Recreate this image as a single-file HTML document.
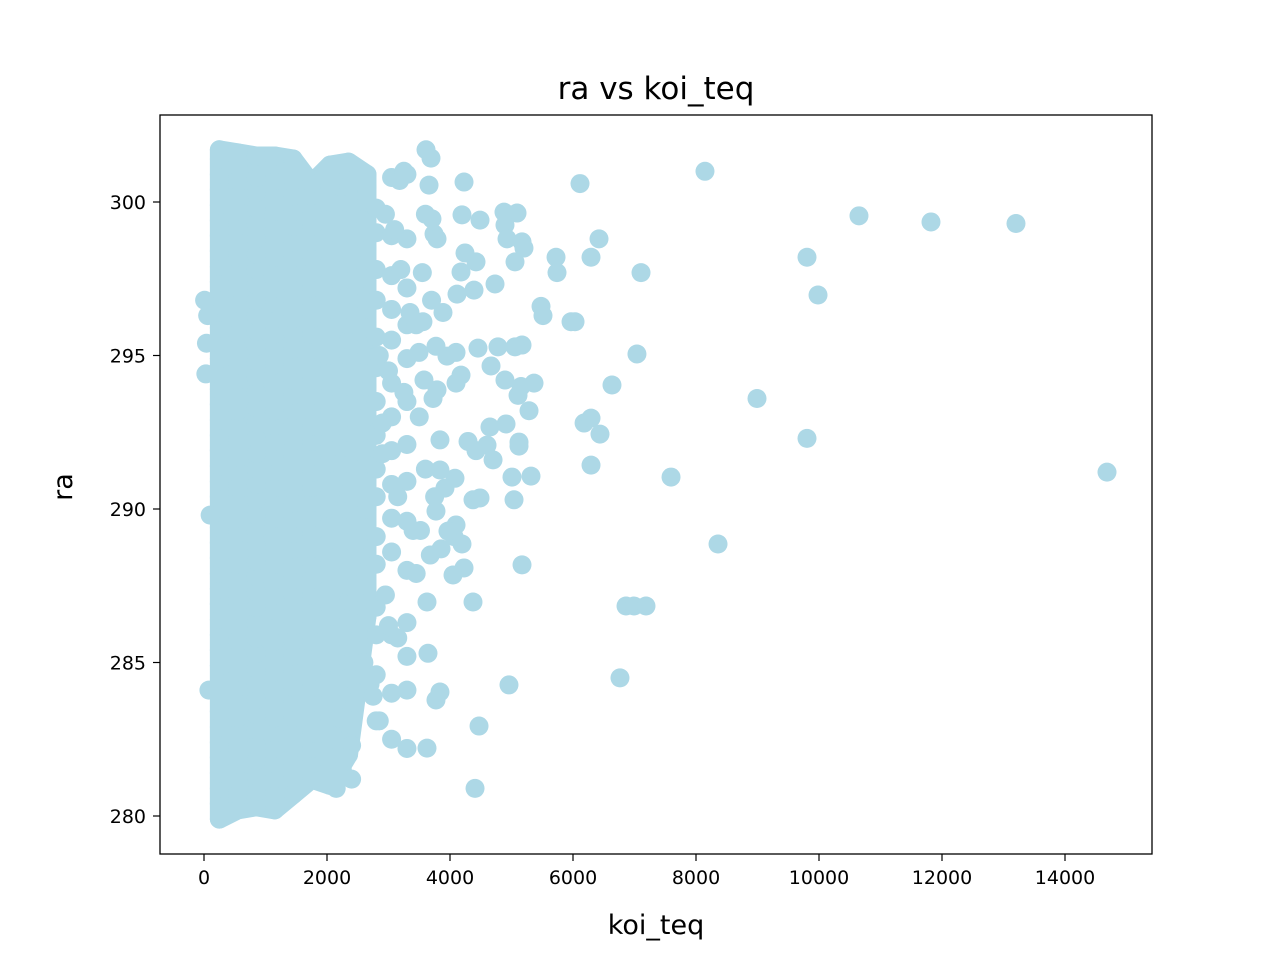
<!DOCTYPE html>
<html><head><meta charset="utf-8"><style>
html,body{margin:0;padding:0;background:#fff}
svg{display:block}
text{font-family:"DejaVu Sans","Liberation Sans",sans-serif;fill:#000}
</style></head><body>
<svg id="chart" width="1280" height="960" viewBox="0 0 1280 960">
<rect x="0" y="0" width="1280" height="960" fill="#fff"/>
<g id="plot"></g>
<rect x="160" y="115" width="992" height="739" fill="none" stroke="#000" stroke-width="1.3"/>
<g id="axes"></g>
<text x="656" y="99" font-size="31" text-anchor="middle">ra vs koi_teq</text>
<text x="656" y="934" font-size="27" text-anchor="middle">koi_teq</text>
<text x="0" y="0" font-size="27" text-anchor="middle" transform="translate(72,487) rotate(-90)">ra</text>
</svg>
<script>
const xTicks=[0,2000,4000,6000,8000,10000,12000,14000];
const yTicks=[280,285,290,295,300];
const coreCols=[250,550,850,1150,1450,1750,2050,2350,2650];
const coreYs=[
[279.9,280.4,280.9,281.4,281.9,282.4,282.9,283.4,283.9,284.4,284.9,285.4,285.9,286.4,286.9,287.4,287.9,288.4,288.9,289.4,289.9,290.4,290.9,291.4,291.9,292.4,292.9,293.4,293.9,294.4,294.9,295.4,295.9,296.4,296.9,297.4,297.9,298.4,298.9,299.4,299.9,300.4,300.9,301.4,301.7],
[280.2,280.7,281.2,281.7,282.2,282.7,283.2,283.7,284.2,284.7,285.2,285.7,286.2,286.7,287.2,287.7,288.2,288.7,289.2,289.7,290.2,290.7,291.2,291.7,292.2,292.7,293.2,293.7,294.2,294.7,295.2,295.7,296.2,296.7,297.2,297.7,298.2,298.7,299.2,299.7,300.2,300.7,301.2,301.6],
[280.3,280.8,281.3,281.8,282.3,282.8,283.3,283.8,284.3,284.8,285.3,285.8,286.3,286.8,287.3,287.8,288.3,288.8,289.3,289.8,290.3,290.8,291.3,291.8,292.3,292.8,293.3,293.8,294.3,294.8,295.3,295.8,296.3,296.8,297.3,297.8,298.3,298.8,299.3,299.8,300.3,300.8,301.3,301.5],
[280.2,280.7,281.2,281.7,282.2,282.7,283.2,283.7,284.2,284.7,285.2,285.7,286.2,286.7,287.2,287.7,288.2,288.7,289.2,289.7,290.2,290.7,291.2,291.7,292.2,292.7,293.2,293.7,294.2,294.7,295.2,295.7,296.2,296.7,297.2,297.7,298.2,298.7,299.2,299.7,300.2,300.7,301.2,301.5],
[280.7,281.2,281.7,282.2,282.7,283.2,283.7,284.2,284.7,285.2,285.7,286.2,286.7,287.2,287.7,288.2,288.7,289.2,289.7,290.2,290.7,291.2,291.7,292.2,292.7,293.2,293.7,294.2,294.7,295.2,295.7,296.2,296.7,297.2,297.7,298.2,298.7,299.2,299.7,300.2,300.7,301.2,301.4],
[281.2,281.7,282.2,282.7,283.2,283.7,284.2,284.7,285.2,285.7,286.2,286.7,287.2,287.7,288.2,288.7,289.2,289.7,290.2,290.7,291.2,291.7,292.2,292.7,293.2,293.7,294.2,294.7,295.2,295.7,296.2,296.7,297.2,297.7,298.2,298.7,299.2,299.7,300.2,300.6],
[281.0,281.5,282.0,282.5,283.0,283.5,284.0,284.5,285.0,285.5,286.0,286.5,287.0,287.5,288.0,288.5,289.0,289.5,290.0,290.5,291.0,291.5,292.0,292.5,293.0,293.5,294.0,294.5,295.0,295.5,296.0,296.5,297.0,297.5,298.0,298.5,299.0,299.5,300.0,300.5,301.0,301.2],
[282.0,282.5,283.0,283.5,284.0,284.5,285.0,285.5,286.0,286.5,287.0,287.5,288.0,288.5,289.0,289.5,290.0,290.5,291.0,291.5,292.0,292.5,293.0,293.5,294.0,294.5,295.0,295.5,296.0,296.5,297.0,297.5,298.0,298.5,299.0,299.5,300.0,300.5,301.0,301.3],
[286.5,287.0,287.5,288.0,288.5,289.0,289.5,290.0,290.5,291.0,291.5,292.0,292.5,293.0,293.5,294.0,294.5,295.0,295.5,296.0,296.5,297.0,297.5,298.0,298.5,299.0,299.5,300.0,300.5,300.9]
];
const midX=[10,60,40,30,100,80,
2150,2250,2400,2200,2350,2300,2500,2150,2450,2250,2550,2600,2700,2750,2400,2300,2850,2100,
2800,2800,2800,2800,2800,2800,2800,2800,2800,2800,2800,2800,2800,2800,2800,2800,
3050,3050,3050,3050,3050,3050,3050,3050,3050,3050,3050,3050,3050,3050,
3300,3300,3300,3300,3300,3300,3300,3300,3300,3300,3300,3300,3300,3300,
2950,3000,3150,3400,2900,3250,2850,3350,3200,2950,3100,3180,3250,2900,3150,3000],
midY=[296.8,296.3,295.4,294.4,289.8,284.1,
280.9,281.5,282.3,283.2,284.5,285.8,284.0,281.3,283.7,282.2,286.0,285.0,284.3,283.9,281.2,281.9,283.1,282.6,
283.1,284.6,285.9,286.8,288.2,289.1,290.4,291.3,292.4,293.5,294.6,295.6,296.8,297.8,299.0,299.8,
282.5,284.0,285.9,288.6,289.7,290.8,291.9,293.0,294.1,295.5,296.5,297.6,298.9,300.8,
282.2,284.1,285.2,286.3,288.0,289.6,290.9,292.1,293.5,294.9,296.0,297.2,298.8,300.9,
287.2,286.2,285.8,289.3,291.8,293.8,295.0,296.4,297.8,299.6,299.1,300.7,301.0,292.8,290.4,294.5];
const outX=[8146,13203,11821,10650,9805,9984,8992,9805,14683,8358,7594,7040,6634,7106,6114,6423,6293,5724,5740,5480,5512,5968,6033,6180,6293,6439,6293,6764,6862,6992,7187,4959,4472,4407,5171,5041,5008,5317,5122,5122,4911,4894,5106,5285,5366,5155,5171,5057,4667,4780,4455,4179,4098,4374,4488,4195,4228,4049,4374,4098,4065,4650,4602,4700,4081,4293,4423,4732,4390,4423,4179,4244,4114,4488,4195,4228,4878,5090,4894,4927,5171,5203,5057,3886,3772,3951,4098,3789,3724,3837,3837,3918,3772,3967,3854,3626,3772,3837,3626,3642,3496,3577,3707,3740,3789,3610,3691,3659,3600,3550,3700,3450,3500,3600,3750,3520,3680,3450,3560],
outY=[301.0,299.3,299.35,299.55,298.2,296.97,293.6,292.3,291.2,288.86,291.04,295.05,294.04,297.7,300.6,298.8,298.2,298.2,297.7,296.6,296.3,296.1,296.1,292.8,292.96,292.44,291.43,284.5,286.84,286.84,286.84,284.27,282.93,280.9,288.18,290.3,291.04,291.07,292.18,292.05,292.77,294.2,293.7,293.2,294.1,293.99,295.34,295.28,294.66,295.28,295.24,294.36,294.1,290.3,290.36,288.86,288.08,287.85,286.97,289.48,289.1,292.67,292.08,291.6,291.0,292.2,291.9,297.33,297.13,298.05,297.72,298.34,297.0,299.41,299.58,300.65,299.67,299.64,299.25,298.8,298.7,298.5,298.05,296.4,295.3,294.98,295.1,293.88,293.6,292.25,291.27,290.68,289.93,289.28,288.7,286.97,283.78,284.04,282.21,285.3,295.1,294.2,299.45,298.96,298.8,301.7,301.43,300.55,299.6,297.7,296.8,296.0,293.0,291.3,290.4,289.3,288.5,287.9,296.1];

const X=v=>204+v*(1065-204)/14000;
const Y=v=>202+(300-v)*(816-202)/20;
const NS='http://www.w3.org/2000/svg';
const plot=document.getElementById('plot');
const axes=document.getElementById('axes');
// dense-core hull from column extents
const topPts=coreCols.map((c,i)=>X(c)+','+Y(Math.max(...coreYs[i])));
const botPts=coreCols.map((c,i)=>X(c)+','+Y(Math.min(...coreYs[i]))).reverse();
const hull=document.createElementNS(NS,'polygon');
hull.setAttribute('points',topPts.concat(botPts).join(' '));
hull.setAttribute('fill','#add8e6');hull.setAttribute('stroke','#add8e6');hull.setAttribute('stroke-width','19');hull.setAttribute('stroke-linejoin','round');


plot.appendChild(hull);
function dot(x,y){
  const c=document.createElementNS(NS,'circle');
  c.setAttribute('cx',X(x));c.setAttribute('cy',Y(y));c.setAttribute('r',9.5);c.setAttribute('fill','#add8e6');
  
  
  plot.appendChild(c);
}
coreCols.forEach((cx,i)=>coreYs[i].forEach(y=>dot(cx,y)));
midX.forEach((x,i)=>dot(x,midY[i]));
outX.forEach((x,i)=>dot(x,outY[i]));
xTicks.forEach(t=>{
  const l=document.createElementNS(NS,'line');
  l.setAttribute('x1',X(t));l.setAttribute('x2',X(t));l.setAttribute('y1',854);l.setAttribute('y2',861);l.setAttribute('stroke','#000');l.setAttribute('stroke-width','1.2');
  
  
  axes.appendChild(l);
  const tx=document.createElementNS(NS,'text');
  tx.setAttribute('x',X(t));tx.setAttribute('y',884);tx.setAttribute('font-size','19');tx.setAttribute('text-anchor','middle');
  tx.textContent=t;
  
  
  axes.appendChild(tx);
});
yTicks.forEach(t=>{
  const l=document.createElementNS(NS,'line');
  l.setAttribute('x1',153);l.setAttribute('x2',160);l.setAttribute('y1',Y(t));l.setAttribute('y2',Y(t));l.setAttribute('stroke','#000');l.setAttribute('stroke-width','1.2');
  
  
  axes.appendChild(l);
  const tx=document.createElementNS(NS,'text');
  tx.setAttribute('x',146);tx.setAttribute('y',Y(t)+7);tx.setAttribute('font-size','19');tx.setAttribute('text-anchor','end');
  tx.textContent=t;
  
  
  axes.appendChild(tx);
});
</script>
</body></html>
